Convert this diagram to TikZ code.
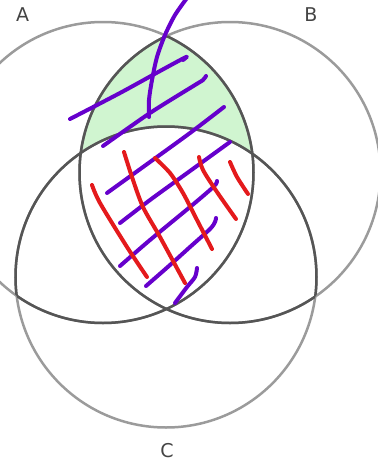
\documentclass[tikz,border=0pt]{standalone}
\usepackage{fontspec}
\setmainfont{DejaVu Sans}
\usetikzlibrary{positioning}
\definecolor{ringlight}{RGB}{155, 155, 155}
\definecolor{ringdark}{RGB}{85, 85, 85}
\definecolor{lensgreen}{RGB}{208, 245, 208}
\definecolor{penpurple}{RGB}{102, 0, 204}
\definecolor{penred}{RGB}{228, 26, 28}
\definecolor{labelgray}{RGB}{68, 68, 68}
\tikzset{
    ringlight/.style={
        draw=ringlight,
        line width=2.5pt
    },
    ringdark/.style={
        draw=ringdark,
        line width=2.5pt
    },
    setlabel/.style={
        text=labelgray,
        font=\fontsize{19}{19}\selectfont,
        inner sep=0pt
    },
    % Hand-drawn hatching
    purplepen/.style={
        draw=penpurple,
        line width=4pt,
        line cap=round,
        line join=round
    },
    redpen/.style={
        draw=penred,
        line width=4pt,
        line cap=round,
        line join=round
    }
}

\begin{document}
\begin{tikzpicture}[x=1pt, y=-1pt]
    \useasboundingbox (0,0) rectangle (378,464);
    \coordinate (A) at (103,172.5);
    \coordinate (B) at (230,172.5);
    \coordinate (C) at (166,277);
    \def\rad{150.5pt}

    % A and B without C
    \begin{scope}
        \clip (A) circle (\rad);
        \clip (B) circle (\rad);
        \fill[lensgreen, even odd rule] (-10,-10) rectangle (400,480) (C) circle (\rad);
    \end{scope}

    \draw[ringlight] (A) circle (\rad);
    \draw[ringlight] (B) circle (\rad);
    \draw[ringlight] (C) circle (\rad);

    % darker where a ring lies inside another set
    \begin{scope}
        \clip (B) circle (\rad) (C) circle (\rad);
        \draw[ringdark] (A) circle (\rad);
    \end{scope}
    \begin{scope}
        \clip (A) circle (\rad) (C) circle (\rad);
        \draw[ringdark] (B) circle (\rad);
    \end{scope}
    \begin{scope}
        \clip (A) circle (\rad) (B) circle (\rad);
        \draw[ringdark] (C) circle (\rad);
    \end{scope}

    \node[setlabel] (labA) at (22.5,14.5) {A};
    \node[setlabel] (labB) at (311,14.5) {B};
    \node[setlabel] (labC) at (167,451) {C};

    % purple strokes
    \draw[purplepen] plot[smooth] coordinates {(187,-2) (175,15) (165,35) (157,57) (152,80) (149,100) (149,117)};
    \draw[purplepen] plot[smooth] coordinates {(70,119) (120,93) (160,71) (186,57) (183,60)};
    \draw[purplepen] plot[smooth] coordinates {(103,146) (150,113) (195,85) (203,80) (206,76)};
    \draw[purplepen] plot[smooth] coordinates {(107,193) (150,162) (190,133) (224,107)};
    \draw[purplepen] plot[smooth] coordinates {(120,223) (150,200) (190,171) (230,142)};
    \draw[purplepen] plot[smooth] coordinates {(120,266) (150,240) (190,207) (210,190) (216,184) (217,181)};
    \draw[purplepen] plot[smooth] coordinates {(146,286) (170,265) (190,247) (210,229) (215,222) (216,218)};
    \draw[purplepen] plot[smooth] coordinates {(175,303) (187,287) (195,277) (197,268)};

    % red strokes
    \draw[redpen] plot[smooth] coordinates {(92,185) (100,203) (127,247) (147,277)};
    \draw[redpen] plot[smooth] coordinates {(124,152) (132,177) (143,207) (160,237) (185,283)};
    \draw[redpen] plot[smooth] coordinates {(155,158) (170,173) (183,193) (197,220) (212,249)};
    \draw[redpen] plot[smooth] coordinates {(199,157) (203,170) (217,192) (236,219)};
    \draw[redpen] plot[smooth] coordinates {(230,162) (237,177) (248,194)};
\end{tikzpicture}
\end{document}
